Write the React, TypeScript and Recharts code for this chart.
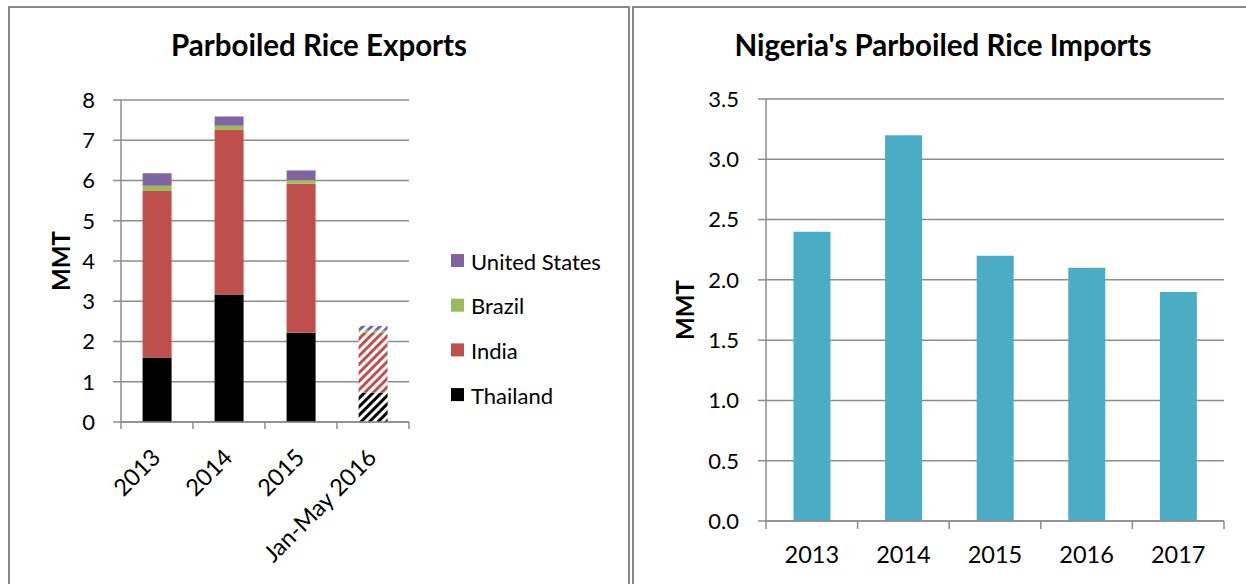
import React from "react";
import { BarChart, Bar, XAxis, YAxis, CartesianGrid, Cell } from "recharts";

const FONT = "Lato, 'Open Sans', sans-serif";
const GRID = "#8c8c8c";

// left chart: parboiled rice exports (MMT)
const exportCategories = ["2013", "2014", "2015", "Jan-May 2016"];
const thailand = [1.6, 3.17, 2.22, 0.73];
const india = [4.14, 4.09, 3.7, 1.48];
const brazil = [0.13, 0.1, 0.09, 0.06];
const unitedStates = [0.31, 0.23, 0.24, 0.12];
const exportTicks = [0, 1, 2, 3, 4, 5, 6, 7, 8];

// right chart: Nigeria imports (MMT)
const importYears = ["2013", "2014", "2015", "2016", "2017"];
const nigeriaImports = [2.4, 3.2, 2.2, 2.1, 1.9];
const importTicks = [0, 0.5, 1, 1.5, 2, 2.5, 3, 3.5];

const series = [
  { key: "thailand", name: "Thailand", color: "#000000", values: thailand },
  { key: "india", name: "India", color: "#C0504D", values: india },
  { key: "brazil", name: "Brazil", color: "#9BBB59", values: brazil },
  { key: "us", name: "United States", color: "#8064A2", values: unitedStates },
];

const exportData = exportCategories.map((cat, i) => {
  const row: Record<string, any> = { cat };
  series.forEach((s) => (row[s.key] = s.values[i]));
  return row;
});

const importData = importYears.map((year, i) => ({ year, value: nigeriaImports[i] }));

const PARTIAL = "Jan-May 2016";

function ExportTick({ x, y, payload, index, band }: any) {
  const half = band / 2;
  return (
    <g>
      <line x1={x - half} y1={y} x2={x - half} y2={y + 7} stroke={GRID} strokeWidth={1.5} />
      {index === exportCategories.length - 1 && (
        <line x1={x + half} y1={y} x2={x + half} y2={y + 7} stroke={GRID} strokeWidth={1.5} />
      )}
      <text
        x={x + 5}
        y={y + 37}
        textAnchor="end"
        transform={`rotate(-45 ${x + 5} ${y + 37})`}
        fontSize={23.5}
        fontFamily={FONT}
        fill="#000"
      >
        {payload.value}
      </text>
    </g>
  );
}

function ImportTick({ x, y, payload, index, band }: any) {
  const half = band / 2;
  return (
    <g>
      <line x1={x - half} y1={y} x2={x - half} y2={y + 8} stroke={GRID} strokeWidth={1.5} />
      {index === importYears.length - 1 && (
        <line x1={x + half} y1={y} x2={x + half} y2={y + 8} stroke={GRID} strokeWidth={1.5} />
      )}
      <text x={x} y={y + 42} textAnchor="middle" fontSize={23.5} fontFamily={FONT} fill="#000">
        {payload.value}
      </text>
    </g>
  );
}

function axisLabel(dx: number) {
  return ({ viewBox }: any) => {
    const cx = viewBox.x + dx;
    const cy = viewBox.y + viewBox.height / 2;
    return (
      <text
        x={cx}
        y={cy}
        textAnchor="middle"
        dominantBaseline="central"
        transform={`rotate(-90 ${cx} ${cy})`}
        fontSize={24}
        fontWeight="bold"
        fontFamily={FONT}
        fill="#000"
      >
        MMT
      </text>
    );
  };
}

const tickStyle = { fontSize: 22, fontFamily: FONT, fill: "#000" };

export default function App() {
  return (
    <div
      style={{
        position: "absolute",
        left: 0,
        top: 0,
        width: 1246,
        height: 584,
        overflow: "hidden",
        background: "#fff",
      }}
    >
      <svg width={1246} height={584} style={{ position: "absolute", left: 0, top: 0 }}>
        <rect x={9} y={7} width={620} height={600} fill="none" stroke="#888" strokeWidth={2} />
        <rect x={633} y={7} width={640} height={600} fill="none" stroke="#888" strokeWidth={2} />
        <text x={319} y={56} textAnchor="middle" fontSize={29.5} fontWeight="bold" fontFamily={FONT}>
          Parboiled Rice Exports
        </text>
        <text x={943} y={56} textAnchor="middle" fontSize={29.5} fontWeight="bold" fontFamily={FONT}>
          Nigeria's Parboiled Rice Imports
        </text>
        {[...series].reverse().map((s, i) => (
          <g key={s.key}>
            <rect x={451} y={254 + i * 44.7} width={13} height={13} fill={s.color} />
            <text
              x={471}
              y={261 + i * 44.7}
              dominantBaseline="central"
              fontSize={22}
              fontFamily={FONT}
              fill="#000"
            >
              {s.name}
            </text>
          </g>
        ))}
      </svg>

      <div style={{ position: "absolute", left: 0, top: 0 }}>
        <BarChart
          width={630}
          height={584}
          data={exportData}
          margin={{ top: 100, right: 221, bottom: 122, left: 61 }}
          barCategoryGap="30%"
        >
          <defs>
            {series.map((s) => (
              <pattern
                key={s.key}
                id={`hatch-${s.key}`}
                width={6}
                height={6}
                patternUnits="userSpaceOnUse"
                patternTransform="rotate(45)"
              >
                <rect width={6} height={6} fill="#fff" />
                <rect width={3} height={6} fill={s.color} />
              </pattern>
            ))}
          </defs>
          <CartesianGrid vertical={false} stroke={GRID} strokeWidth={1.5} />
          <XAxis
            dataKey="cat"
            height={40}
            axisLine={{ stroke: GRID, strokeWidth: 1.5 }}
            tickLine={false}
            tickSize={0}
            tickMargin={0}
            interval={0}
            tick={<ExportTick band={72} />}
          />
          <YAxis
            width={60}
            domain={[0, 8]}
            ticks={exportTicks}
            axisLine={{ stroke: GRID, strokeWidth: 1.5 }}
            tickLine={{ stroke: GRID, strokeWidth: 1.5 }}
            tickSize={8}
            tickMargin={18}
            tick={tickStyle}
            label={{ content: axisLabel(-1) }}
          />
          {series.map((s) => (
            <Bar key={s.key} dataKey={s.key} stackId="a" fill={s.color} isAnimationActive={false}>
              {exportData.map((row) => (
                <Cell
                  key={row.cat}
                  fill={row.cat === PARTIAL ? `url(#hatch-${s.key})` : s.color}
                />
              ))}
            </Bar>
          ))}
        </BarChart>
      </div>

      <div style={{ position: "absolute", left: 632, top: 0 }}>
        <BarChart
          width={614}
          height={584}
          data={importData}
          margin={{ top: 99, right: 22, bottom: 23, left: 74 }}
          barCategoryGap="30%"
        >
          <CartesianGrid vertical={false} stroke={GRID} strokeWidth={1.5} />
          <XAxis
            dataKey="year"
            height={40}
            axisLine={{ stroke: GRID, strokeWidth: 1.5 }}
            tickLine={false}
            tickSize={0}
            tickMargin={0}
            interval={0}
            tick={<ImportTick band={91.6} />}
          />
          <YAxis
            width={60}
            domain={[0, 3.5]}
            ticks={importTicks}
            tickFormatter={(v: number) => v.toFixed(1)}
            axisLine={{ stroke: GRID, strokeWidth: 1.5 }}
            tickLine={{ stroke: GRID, strokeWidth: 1.5 }}
            tickSize={8}
            tickMargin={19}
            tick={tickStyle}
            label={{ content: axisLabel(-22) }}
          />
          <Bar dataKey="value" fill="#4BACC6" isAnimationActive={false} />
        </BarChart>
      </div>
    </div>
  );
}
